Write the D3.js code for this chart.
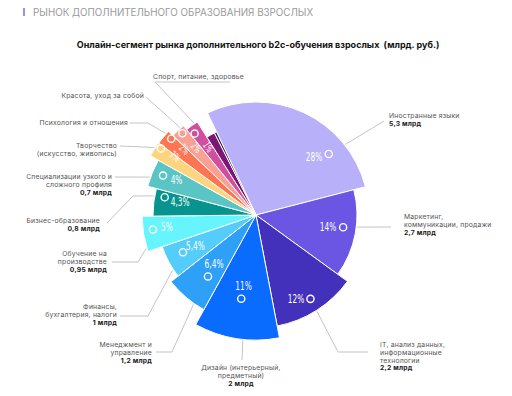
<!DOCTYPE html>
<html><head><meta charset="utf-8">
<script src="https://cdn.jsdelivr.net/npm/d3@7"></script>
<style>body{margin:0;background:#fff}svg{display:block}</style>
</head><body><svg id="c" width="512" height="396"></svg>
<script>
// ---- data ----
const categories = ["Иностранные языки","Маркетинг, коммуникации, продажи","IT, анализ данных, информационные технологии","Дизайн (интерьерный, предметный)","Менеджмент и управление","Финансы, бухгалтерия, налоги","Обучение на производстве","Бизнес-образование","Специализации узкого и сложного профиля","Творчество (искусство, живопись)","Психология и отношения","Красота, уход за собой","Спорт, питание, здоровье","Прочее A","Прочее B"];
const shares = [28,14,12,11,6.4,5.4,5,4.3,4,2,2,2,1.9,1.5,0.4];
const pctLabels = ["28%","14%","12%","11%","6,4%","5,4%","5%","4,3%","4%","2%","2%","2%","1%","",""];
const valuesBn = ["5,3 млрд","2,7 млрд","2,2 млрд","2 млрд","1,2 млрд","1 млрд","0,95 млрд","0,8 млрд","0,7 млрд",null,null,null,null,null,null];
const labelLines = [["Иностранные языки"],["Маркетинг,","коммуникации, продажи"],["IT, анализ данных,","информационные","технологии"],["Дизайн (интерьерный,","предметный)"],["Менеджмент и","управление"],["Финансы,","бухгалтерия, налоги"],["Обучение на","производстве"],["Бизнес-образование"],["Специализации узкого и","сложного профиля"],["Творчество","(искусство, живопись)"],["Психология и отношения"],["Красота, уход за собой"],["Спорт, питание, здоровье"],[],[]];
const headerText = "РЫНОК ДОПОЛНИТЕЛЬНОГО ОБРАЗОВАНИЯ ВЗРОСЛЫХ";
const titleText = "Онлайн-сегмент рынка дополнительного b2c-обучения взрослых  (млрд. руб.)";

// ---- layout / style ----
const colors = ["#b9b0fa","#6b55e3","#4330bb","#0a6bff","#2ea0f7","#55cdfb","#66f5fd","#07948f","#5bc5c5","#fdd57f","#fe7553","#f7a194","#d04f9f","#7d1675","#221a50"];
const outerR = [113,101,113,125,108,99,114,103,112,121,121,115,110,92,92];
const circlePos = [[50,95],[98,88],[147,100],[190,85],[218,78],[243,82],[262,104],[281,93],[293,101],[305,116],[312,114],[318,110],[323,102]]; // [deg, r]
const textPos = [[45,82],[99.5,73],[154.5,93],[190,72],[221,64],[243,68],[262.3,90],[280,77],[294,87],[306,100],[312.6,97],[318.5,90],[325,83]];
const textRot = [0,0,0,0,0,0,0,0,0,38,44,50,56];
const anchorDeg = [51.7,96.8,147.7,186,215,236.5,253,280.6,289.6,303.6,312,319,326];
const leaders = [
 {pts:[[384,121]], lx:389, ly:116, ta:"start"},
 {pts:[[391,227]], lx:404, ly:217, ta:"start"},
 {pts:[[338,352],[368,352]], lx:380, ly:345, ta:"start"},
 {pts:[[242,360]], lx:241, ly:368, ta:"middle"},
 {pts:[[172,352],[156,352]], lx:152, ly:345, ta:"end"},
 {pts:[[148,316],[120,316]], lx:117, ly:307, ta:"end"},
 {pts:[[138,262],[112,262]], lx:107, ly:254, ta:"end"},
 {pts:[[133,196],[107,223]], lx:100, ly:221, ta:"end"},
 {pts:[[115,177]], lx:112, ly:177, ta:"end"},
 {pts:[[120,146]], lx:117, ly:146, ta:"end"},
 {pts:[[148,123],[130,123]], lx:128, ly:123, ta:"end"},
 {pts:[[146,97]], lx:144, ly:96, ta:"end"},
 {pts:[[155,82],[230,82]], lx:153, ly:77, ta:"start"}
];
const cx = 256, cy = 215, startDeg = -25.4, lineH = 7.6;
const rad = d => d*Math.PI/180;
const polar = (deg, r) => [cx + r*Math.sin(rad(deg)), cy - r*Math.cos(rad(deg))];

const svg = d3.select("#c");
const labelFont = "Inter, 'Open Sans', sans-serif";

// header
svg.append("rect").attr("x",23).attr("y",8).attr("width",2).attr("height",8).attr("fill","#9f8cf0");
svg.append("text").attr("x",33).attr("y",15.5).attr("font-family",labelFont).attr("font-size",9.8)
  .attr("fill","#9a9a9a").text(headerText);
svg.append("text").attr("x",258).attr("y",47.5).attr("text-anchor","middle").attr("font-family",labelFont)
  .style("white-space","pre")
  .attr("font-size",9).attr("font-weight",700).attr("fill","#111").text(titleText);

// pie
const pie = d3.pie().value(d=>d).sort(null).startAngle(rad(startDeg)).endAngle(rad(startDeg)+2*Math.PI);
const arcs = pie(shares);
const g = svg.append("g").attr("transform",`translate(${cx},${cy})`);
g.selectAll("path").data(arcs).join("path")
  .attr("d",(d,i)=>d3.arc().innerRadius(0).outerRadius(outerR[i])(d))
  .attr("fill",(d,i)=>colors[i]).attr("stroke","#fff").attr("stroke-width",1).attr("stroke-linejoin","round");

// rings & percent text
arcs.forEach((d,i)=>{
  if(!pctLabels[i]) return;
  const [x,y] = polar(circlePos[i][0], circlePos[i][1]);
  svg.append("circle").attr("cx",x).attr("cy",y).attr("r",3.6).attr("fill","none").attr("stroke","#fff").attr("stroke-width",1.4);
  const [tx,ty] = polar(textPos[i][0], textPos[i][1]);
  const small = textRot[i] !== 0;
  svg.append("text").attr("transform",`translate(${tx},${ty}) rotate(${textRot[i]}) scale(0.66,1)`)
    .attr("text-anchor","middle").attr("dy","0.35em")
    .attr("font-family","'Liberation Sans Narrow','DejaVu Sans Condensed',sans-serif")
    .attr("font-size",small?10.5:12.5).attr("fill","#fff").text(pctLabels[i]);
});

// leaders and labels
leaders.forEach((L,i)=>{
  const a = polar(anchorDeg[i], outerR[i]+1);
  const pts = [a].concat(L.pts);
  svg.append("path").attr("d",d3.line()(pts)).attr("fill","none").attr("stroke","#b5b5b5").attr("stroke-width",0.8);
  const lines = labelLines[i].map(t=>({t,b:false}));
  if(valuesBn[i]) lines.push({t:valuesBn[i],b:true});
  const t = svg.append("text").attr("font-family",labelFont).attr("font-size",6.8)
    .attr("letter-spacing",0.2).attr("text-anchor",L.ta);
  lines.forEach((ln,k)=>{
    t.append("tspan").attr("x",L.lx).attr("y",L.ly+2.4+k*lineH)
      .attr("font-weight",ln.b?700:400).attr("fill",ln.b?"#1a1a1a":"#555").text(ln.t);
  });
});
</script></body></html>
